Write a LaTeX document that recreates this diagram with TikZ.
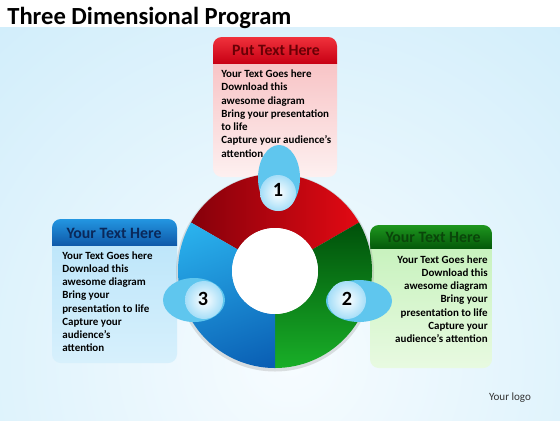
\documentclass[tikz,border=0pt]{standalone}
\usepackage{fontspec}
\setmainfont{Carlito}
\usetikzlibrary{calc}
\definecolor{bgin}{RGB}{247,252,255}
\definecolor{bgout}{RGB}{205,236,250}
\definecolor{redD}{RGB}{125,0,10}
\definecolor{redB}{RGB}{235,10,20}
\definecolor{greenD}{RGB}{0,80,10}
\definecolor{greenB}{RGB}{25,175,40}
\definecolor{blueL}{RGB}{45,185,242}
\definecolor{blueD}{RGB}{10,95,180}
\definecolor{bubble}{RGB}{95,198,238}
\definecolor{bubbleIn}{RGB}{165,222,248}
\definecolor{redHT}{RGB}{240,50,60}
\definecolor{redHB}{RGB}{200,0,20}
\definecolor{redBT}{RGB}{248,196,198}
\definecolor{redBB}{RGB}{253,240,240}
\definecolor{blueHT}{RGB}{35,150,225}
\definecolor{blueHB}{RGB}{15,90,170}
\definecolor{blueBT}{RGB}{190,230,250}
\definecolor{blueBB}{RGB}{215,240,252}
\definecolor{greenHT}{RGB}{30,150,30}
\definecolor{greenHB}{RGB}{5,90,10}
\definecolor{greenBT}{RGB}{200,242,190}
\definecolor{greenBB}{RGB}{232,250,225}
\definecolor{redTitle}{RGB}{105,0,5}
\definecolor{blueTitle}{RGB}{10,40,90}
\definecolor{greenTitle}{RGB}{10,70,10}
\tikzset{
  body/.style={inner sep=0pt, font=\fontsize{6.25}{7.55}\selectfont\bfseries, text=black},
  head/.style={inner sep=0pt, font=\fontsize{9}{10}\selectfont\bfseries},
  numtxt/.style={inner sep=0pt, font=\fontsize{11.5}{13}\selectfont\bfseries, text=black},
  bubbleout/.style={fill=bubble},
  bubblein/.style={inner color=white, outer color=bubbleIn}
}
\begin{document}
\begin{tikzpicture}[x=0.02cm,y=0.02cm]
\useasboundingbox (0,0) rectangle (560,-420);
% background
\fill[white] (0,0) rectangle (560,-27);
\fill[bgout] (0,-27) rectangle (560,-420);
\begin{scope}
\clip (0,-27) rectangle (560,-420);
\shade[inner color=bgin, outer color=bgout] (290,-360) circle (500);
\end{scope}

% title
\node[anchor=west, inner sep=0pt, font=\fontsize{14}{16}\selectfont\bfseries] (title) at (7,-18) {Three Dimensional Program};

% ---------- red box ----------
\begin{scope}
\clip[rounded corners=5] (213,-37) rectangle (337,-177);
\shade[top color=redBT, bottom color=redBB] (213,-63) rectangle (337,-177);
\shade[top color=redHT, bottom color=redHB] (213,-37) rectangle (337,-63);
\end{scope}
\node[head, text=redTitle] (redtitle) at (276,-50) {Put Text Here};
\node[body, anchor=north west, align=left] (redtext) at (221,-69.5)
 {Your Text Goes here\\Download this\\awesome diagram\\Bring your presentation\\to life\\Capture your audience’s\\attention};

% ---------- blue box ----------
\begin{scope}
\clip[rounded corners=5] (52,-219) rectangle (177,-363);
\shade[top color=blueBT, bottom color=blueBB] (52,-245) rectangle (177,-363);
\shade[top color=blueHT, bottom color=blueHB] (52,-219) rectangle (177,-245);
\end{scope}
\node[head, text=blueTitle] (bluetitle) at (114,-233) {Your Text Here};
\node[body, anchor=north west, align=left] (bluetext) at (62,-251)
 {Your Text Goes here\\Download this\\awesome diagram\\Bring your\\presentation to life\\Capture your\\audience’s\\attention};

% ---------- green box ----------
\begin{scope}
\clip[rounded corners=5] (370,-225) rectangle (492,-368);
\shade[top color=greenBT, bottom color=greenBB] (370,-248) rectangle (492,-368);
\shade[top color=greenHT, bottom color=greenHB] (370,-225) rectangle (492,-248);
\end{scope}
\node[head, text=greenTitle] (greentitle) at (433,-237.5) {Your Text Here};
\node[body, anchor=north east, align=right] (greentext) at (488,-255)
 {Your Text Goes here\\Download this\\awesome diagram\\Bring your\\presentation to life\\Capture your\\audience’s attention};

% ---------- ring ----------
\coordinate (C) at (275,-271);
\fill[black!40, opacity=0.3] ($(C)+(0,-1.5)$) circle (99);
\begin{scope}
\clip (C) ++(30:97) arc (30:150:97) -- ($(C)+(150:43)$) arc (150:30:43) -- cycle;
\shade[left color=redD, right color=redB] (175,-170) rectangle (375,-372);
\end{scope}
\begin{scope}
\clip (C) ++(-90:97) arc (-90:30:97) -- ($(C)+(30:43)$) arc (30:-90:43) -- cycle;
\shade[top color=greenD, bottom color=greenB] (175,-222) rectangle (375,-368);
\end{scope}
\begin{scope}
\clip (C) ++(150:97) arc (150:270:97) -- ($(C)+(270:43)$) arc (270:150:43) -- cycle;
\shade[top color=blueL, bottom color=blueD, shading angle=20] (150,-200) rectangle (300,-380);
\end{scope}
\fill[white] (C) circle (43);

% ---------- bubbles ----------
\fill[bubbleout] (279,-178) ellipse (21 and 33);
\shade[bubblein] (278,-193) circle (18);
\node[numtxt] (n1) at (278,-190) {1};

\fill[bubbleout] (359,-301) ellipse (33 and 21);
\shade[bubblein] (347,-300) circle (19);
\node[numtxt] (n2) at (347,-299) {2};

\fill[bubbleout] (194,-300) ellipse (31 and 22);
\shade[bubblein] (204,-300) circle (19);
\node[numtxt] (n3) at (203,-299) {3};

% logo
\node[inner sep=0pt, font=\fontsize{6.3}{7}\selectfont, text=black!80] (logo) at (510,-398) {Your logo};
\end{tikzpicture}
\end{document}
